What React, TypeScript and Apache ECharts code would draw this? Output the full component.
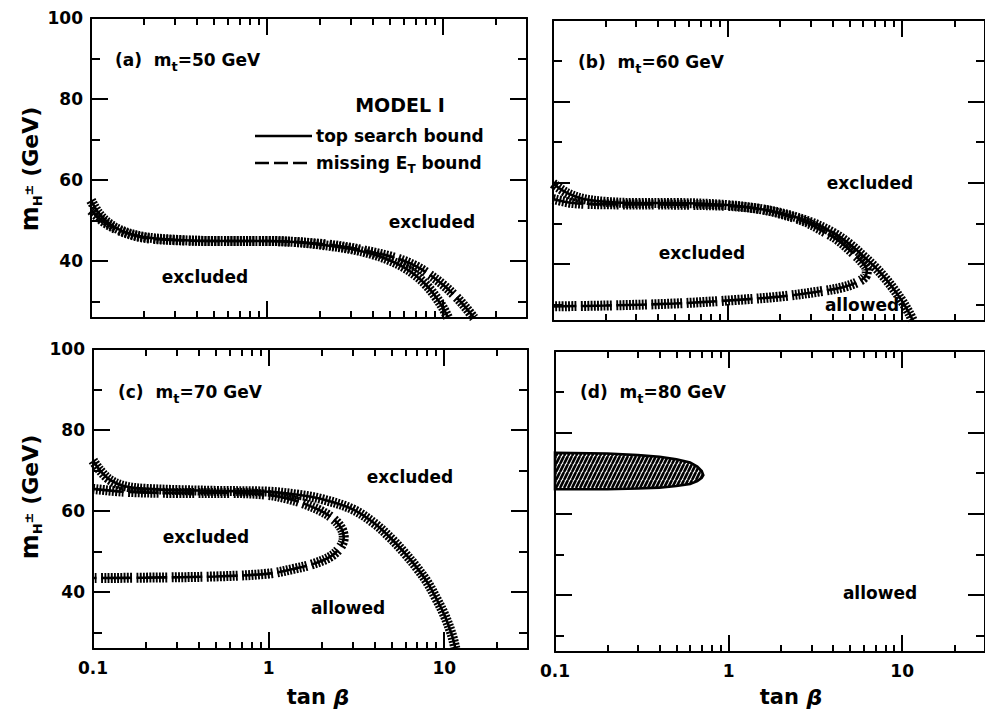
import React, { useEffect, useRef } from "react";
import * as echarts from "echarts";

const FONT = "'DejaVu Sans', 'Liberation Sans', sans-serif";

// Axis ranges and tick values
const X_MIN = 0.1;
const X_MAX = 30;
const Y_MIN = 26;
const Y_MAX = 100;
const X_MAJOR_TICKS = [0.1, 1, 10];
const X_MINOR_TICKS = [0.2, 0.3, 0.4, 0.5, 0.6, 0.7, 0.8, 0.9, 2, 3, 4, 5, 6, 7, 8, 9, 20];
const X_TICK_LABELS = [0.1, 1, 10];
const Y_MAJOR_TICKS = [40, 60, 80, 100];
const Y_MINOR_TICKS = [30, 50, 70, 90];
const Y_TICK_LABELS = [40, 60, 80, 100];

// (a) m_t = 50 GeV
const aTopSearchX = [0.1, 0.11, 0.125, 0.15, 0.2, 0.3, 0.5, 1, 1.5, 2, 3, 4, 5, 6, 7, 8, 9, 10, 10.7];
const aTopSearchY = [55, 52, 49.5, 47.5, 46, 45.3, 45, 45, 44.7, 44.1, 43, 41.7, 40.2, 38.5, 36.5, 34.2, 31.5, 28.5, 26];
const aMissingEtX = [0.1, 0.12, 0.15, 0.2, 0.3, 0.5, 1, 2, 3, 4, 5, 6, 7, 8, 10, 12, 13.5, 15];
const aMissingEtY = [52.5, 49.5, 47.3, 45.8, 45.2, 45, 45, 44.3, 43.3, 42.2, 41.2, 40.1, 38.8, 37.3, 34.2, 31, 28.5, 26];

// (b) m_t = 60 GeV
const bTopSearchX = [0.1, 0.12, 0.15, 0.2, 0.3, 0.5, 1, 1.5, 2, 3, 4, 5, 6, 7, 8, 9, 10, 11, 11.6];
const bTopSearchY = [59.8, 57.5, 56, 55.3, 55, 55, 54.5, 53.6, 52.6, 50.3, 47.8, 45, 42, 39.3, 36.6, 33.8, 31, 28, 26];
const bMissingEtX = [0.1, 0.13, 0.2, 0.5, 1, 1.5, 2, 2.76, 3.5, 4.27, 5.2, 5.9, 6.3, 6.2, 5.6, 4.6, 3.43, 2, 1.15, 0.5, 0.2, 0.1];
const bMissingEtY = [56, 55, 54.7, 54.6, 54.3, 53.6, 52.4, 50.5, 48.2, 46, 42.8, 40.5, 38.5, 37, 35.6, 34.3, 33.3, 32, 31.2, 30.3, 29.8, 29.6];

// (c) m_t = 70 GeV
const cTopSearchX = [0.1, 0.11, 0.125, 0.15, 0.2, 0.5, 1, 1.5, 2, 3, 4, 5, 6, 7, 8, 9, 10, 11, 11.6];
const cTopSearchY = [72.5, 70, 67.7, 66.2, 65.5, 65, 64.8, 64, 63, 60.5, 57, 53.2, 49.5, 46, 42.5, 38.5, 34.5, 29.8, 26];
const cMissingEtX = [0.1, 0.15, 0.3, 0.6, 1, 1.3, 1.6, 2, 2.35, 2.6, 2.68, 2.55, 2.25, 1.8, 1.4, 1, 0.5, 0.2, 0.1];
const cMissingEtY = [65.5, 64.8, 64.5, 64.5, 64, 63, 61.8, 60, 58, 55.7, 53.5, 51, 48.8, 47, 45.8, 44.6, 43.9, 43.6, 43.5];

// (d) m_t = 80 GeV: closed excluded island
const dUpperX = [0.1, 0.2, 0.3, 0.4, 0.5, 0.6, 0.66, 0.7, 0.715];
const dUpperY = [75, 74.8, 74.4, 74, 73.4, 72.6, 71.6, 70.5, 69.5];
const dLowerX = [0.7, 0.66, 0.6, 0.5, 0.4, 0.3, 0.2, 0.1];
const dLowerY = [68.8, 68, 67.3, 66.8, 66.4, 66.2, 66, 66];

const PANELS = [
  { grid: { left: 91, top: 18, width: 436, height: 300 }, xLabels: false, yLabels: true },
  { grid: { left: 553, top: 20, width: 436, height: 301 }, xLabels: false, yLabels: false },
  { grid: { left: 93, top: 349, width: 435, height: 300 }, xLabels: true, yLabels: true },
  { grid: { left: 555, top: 351, width: 436, height: 301 }, xLabels: true, yLabels: false },
];

const BLACK = "#000";
const HATCH_SOLID = [1.9, 1.3];
const HATCH_DASHED = [
  1.9, 1.3, 1.9, 1.3, 1.9, 1.3, 1.9, 1.3, 1.9, 1.3,
  1.9, 1.3, 1.9, 1.3, 1.9, 1.3, 1.9, 1.3, 1.9, 4.5,
];
const SPINE_DASHED = [30.7, 4.5];

const tickLabelStyle = {
  color: BLACK,
  fontFamily: FONT,
  fontWeight: "bold" as const,
  fontSize: 17,
};

function xAxesFor(g: number, withLabels: boolean) {
  const base = {
    type: "log",
    logBase: 10,
    min: X_MIN,
    max: X_MAX,
    gridIndex: g,
    splitLine: { show: false },
    minorTick: { show: false },
    axisLine: { show: false, onZero: false },
    axisLabel: { show: false },
    axisTick: { show: false },
  };
  const line = { show: true, onZero: false, lineStyle: { color: BLACK, width: 2 } };
  const major = { show: true, inside: true, length: 17, customValues: X_MAJOR_TICKS, lineStyle: { color: BLACK, width: 2 } };
  const minor = { show: true, inside: true, length: 7, customValues: X_MINOR_TICKS, lineStyle: { color: BLACK, width: 2 } };
  return [
    {
      ...base,
      position: "bottom",
      axisLine: line,
      axisTick: major,
      axisLabel: withLabels
        ? {
            show: true,
            customValues: X_TICK_LABELS,
            margin: 10,
            ...tickLabelStyle,
            formatter: (v: number) => (v < 1 ? v.toFixed(1) : String(Math.round(v))),
          }
        : { show: false },
    },
    { ...base, position: "bottom", axisTick: minor },
    { ...base, position: "top", axisLine: line, axisTick: major },
    { ...base, position: "top", axisTick: minor },
  ];
}

function yAxesFor(g: number, withLabels: boolean) {
  const base = {
    type: "value",
    min: Y_MIN,
    max: Y_MAX,
    gridIndex: g,
    splitLine: { show: false },
    axisLine: { show: false, onZero: false },
    axisLabel: { show: false },
    axisTick: { show: false },
  };
  const line = { show: true, onZero: false, lineStyle: { color: BLACK, width: 2 } };
  const major = { show: true, inside: true, length: 17, customValues: Y_MAJOR_TICKS, lineStyle: { color: BLACK, width: 2 } };
  const minor = { show: true, inside: true, length: 9, customValues: Y_MINOR_TICKS, lineStyle: { color: BLACK, width: 2 } };
  return [
    {
      ...base,
      position: "left",
      axisLine: line,
      axisTick: major,
      axisLabel: withLabels
        ? { show: true, customValues: Y_TICK_LABELS, margin: 8, ...tickLabelStyle }
        : { show: false },
    },
    { ...base, position: "left", axisTick: minor },
    { ...base, position: "right", axisLine: line, axisTick: major },
    { ...base, position: "right", axisTick: minor },
  ];
}

// A bound drawn as a hatched band: thick dashed stroke for the hatching plus a thin spine
function bandSeries(g: number, xs: number[], ys: number[], dashed: boolean) {
  const data = xs.map((x, i) => [x, ys[i]]);
  const common = {
    type: "line",
    xAxisIndex: 4 * g,
    yAxisIndex: 4 * g,
    data,
    symbol: "none",
    smooth: 0.35,
    silent: true,
  };
  return [
    {
      ...common,
      z: 3,
      lineStyle: { color: BLACK, width: 10, type: dashed ? HATCH_DASHED : HATCH_SOLID, cap: "butt" },
    },
    {
      ...common,
      z: 4,
      lineStyle: { color: BLACK, width: 2.6, type: dashed ? SPINE_DASHED : "solid", cap: "butt" },
    },
  ];
}

function makeHatchCanvas() {
  const c = document.createElement("canvas");
  c.width = 4;
  c.height = 8;
  const ctx = c.getContext("2d");
  if (ctx) {
    ctx.fillStyle = "#fff";
    ctx.fillRect(0, 0, 4, 8);
    ctx.strokeStyle = "#000";
    ctx.lineWidth = 2.6;
    for (const off of [-4, 0, 4]) {
      ctx.beginPath();
      ctx.moveTo(off, 8);
      ctx.lineTo(off + 4, 0);
      ctx.stroke();
    }
  }
  return c;
}

const measureCtx = document.createElement("canvas").getContext("2d");
function measure(t: string, size: number, italic = false) {
  if (!measureCtx) return t.length * size * 0.6;
  measureCtx.font = `${italic ? "italic " : ""}bold ${size}px ${FONT}`;
  return measureCtx.measureText(t).width;
}

type Run = { t: string; size: number; dy: number; italic?: boolean };

// A row of text runs (for sub/superscripts) laid out left to right inside a group
function runsRow(runs: Run[], x: number, y: number, align: "left" | "center", rotation = 0) {
  const widths = runs.map((r) => measure(r.t, r.size, r.italic));
  const total = widths.reduce((a, b) => a + b, 0);
  let cursor = align === "center" ? -total / 2 : 0;
  const children = runs.map((r, i) => {
    const el = {
      type: "text",
      x: cursor,
      y: r.dy,
      silent: true,
      style: {
        text: r.t,
        fill: BLACK,
        fontFamily: FONT,
        fontWeight: "bold",
        fontStyle: r.italic ? "italic" : "normal",
        fontSize: r.size,
        align: "left",
        textAlign: "left",
        verticalAlign: "middle",
        textVerticalAlign: "middle",
      },
    };
    cursor += widths[i];
    return el;
  });
  return { type: "group", x, y, rotation, silent: true, z: 20, children };
}

function text(t: string, x: number, y: number, size = 17, align = "center") {
  return {
    type: "text",
    x,
    y,
    silent: true,
    z: 20,
    style: {
      text: t,
      fill: BLACK,
      fontFamily: FONT,
      fontWeight: "bold",
      fontSize: size,
      align,
      textAlign: align,
      verticalAlign: "middle",
      textVerticalAlign: "middle",
    },
  };
}

function panelTitle(letter: string, mass: string, x: number, y: number) {
  return runsRow(
    [
      { t: `(${letter})  m`, size: 17, dy: 0 },
      { t: "t", size: 13, dy: 6 },
      { t: `=${mass} GeV`, size: 17, dy: 0 },
    ],
    x,
    y,
    "left"
  );
}

function yTitle(cx: number, cy: number) {
  return runsRow(
    [
      { t: "m", size: 24, dy: 0 },
      { t: "H", size: 13, dy: 7 },
      { t: "±", size: 13, dy: -2 },
      { t: " (GeV)", size: 22, dy: 0 },
    ],
    cx,
    cy,
    "center",
    Math.PI / 2
  );
}

function xTitle(cx: number, cy: number) {
  return runsRow(
    [
      { t: "tan", size: 21, dy: 0 },
      { t: " β", size: 22, dy: 0, italic: true },
    ],
    cx,
    cy,
    "center"
  );
}

export default function App() {
  const ref = useRef<HTMLDivElement | null>(null);

  useEffect(() => {
    if (!ref.current) return;
    const chart = echarts.init(ref.current, undefined, { renderer: "svg" });

    const xAxis: any[] = [];
    const yAxis: any[] = [];
    PANELS.forEach((p, g) => {
      xAxis.push(...xAxesFor(g, p.xLabels));
      yAxis.push(...yAxesFor(g, p.yLabels));
    });

    const dOutline = [
      ...dUpperX.map((x, i) => [x, dUpperY[i]]),
      ...dLowerX.map((x, i) => [x, dLowerY[i]]),
    ];
    const hatch = makeHatchCanvas();

    const series: any[] = [
      ...bandSeries(0, aTopSearchX, aTopSearchY, false),
      ...bandSeries(0, aMissingEtX, aMissingEtY, true),
      ...bandSeries(1, bTopSearchX, bTopSearchY, false),
      ...bandSeries(1, bMissingEtX, bMissingEtY, true),
      ...bandSeries(2, cTopSearchX, cTopSearchY, false),
      ...bandSeries(2, cMissingEtX, cMissingEtY, true),
      {
        type: "custom",
        coordinateSystem: "cartesian2d",
        xAxisIndex: 12,
        yAxisIndex: 12,
        data: dOutline,
        encode: { x: 0, y: 1 },
        silent: true,
        z: 3,
        renderItem: (params: any, api: any) => {
          if (params.dataIndex !== 0) return null;
          const pts = dOutline.map((p) => api.coord(p));
          return {
            type: "polygon",
            shape: { points: pts },
            style: {
              fill: { image: hatch, repeat: "repeat", imageWidth: 4, imageHeight: 8 },
              stroke: BLACK,
              lineWidth: 2.6,
            },
          };
        },
      },
    ];

    const graphic: any[] = [
      panelTitle("a", "50", 115, 60),
      panelTitle("b", "60", 578, 62),
      panelTitle("c", "70", 118, 392),
      panelTitle("d", "80", 580, 392),
      // model legend
      text("MODEL I", 400, 105, 19),
      {
        type: "line",
        silent: true,
        shape: { x1: 255, y1: 136, x2: 312, y2: 136 },
        style: { stroke: BLACK, lineWidth: 2.5 },
      },
      {
        type: "line",
        silent: true,
        shape: { x1: 255, y1: 163, x2: 312, y2: 163 },
        style: { stroke: BLACK, lineWidth: 2.5, lineDash: [14, 5] },
      },
      text("top search bound", 316, 136, 17, "left"),
      runsRow(
        [
          { t: "missing E", size: 17, dy: 0 },
          { t: "T", size: 12, dy: 6 },
          { t: " bound", size: 17, dy: 0 },
        ],
        316,
        163,
        "left"
      ),
      // region annotations
      text("excluded", 432, 222),
      text("excluded", 205, 277),
      text("excluded", 870, 183),
      text("excluded", 702, 253),
      text("allowed", 862, 305),
      text("excluded", 410, 477),
      text("excluded", 206, 537),
      text("allowed", 348, 608),
      text("allowed", 880, 593),
      // axis titles
      yTitle(30, 169),
      yTitle(30, 497),
      xTitle(318, 697),
      xTitle(791, 697),
    ];

    chart.setOption({
      animation: false,
      backgroundColor: "#fff",
      grid: PANELS.map((p) => ({ ...p.grid, containLabel: false })),
      xAxis,
      yAxis,
      series,
      graphic,
    });

    return () => chart.dispose();
  }, []);

  return (
    <div
      ref={ref}
      style={{ position: "fixed", left: 0, top: 0, width: 985, height: 710, background: "#fff" }}
    />
  );
}
